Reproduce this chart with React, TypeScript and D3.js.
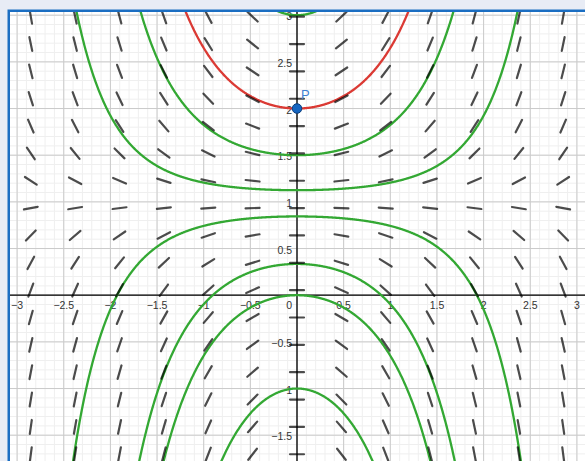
import React from 'react';
import * as d3 from 'd3';

const W = 585;
const H = 461;

// axis tick labels
const xTickLabels = [-3, -2.5, -2, -1.5, -1, -0.5, 0, 0.5, 1, 1.5, 2, 2.5, 3];
const yTickLabels = [-1.5, -1, -0.5, 0.5, 1, 1.5, 2, 2.5, 3];

// slope-field sample grid (data units)
const slopeCols = [-2.853, -2.378, -1.902, -1.427, -0.951, -0.476, 0, 0.476, 0.951, 1.427, 1.902, 2.378, 2.853];
const slopeRows = [2.984, 2.691, 2.398, 2.105, 1.812, 1.519, 1.226, 0.933, 0.64, 0.347, 0.054, -0.239, -0.532, -0.825, -1.118, -1.411, -1.704];

// solution curves y = 1 + C·exp(x²/2), one constant per curve
const greenConstants = [2, 0.5, 0.125, -0.156, -0.665, -1, -2];
const redConstants = [1];

// the labelled point
const pointP = { x: 0, y: 2, label: 'P' };

// ODE: dy/dx = x (y - 1)
const slope = (x: number, y: number) => x * (y - 1);
const solution = (c: number) => (x: number) => 1 + c * Math.exp((x * x) / 2);

const fmt = (v: number) => (v < 0 ? '\u2212' + String(Math.abs(v)) : String(v));

export default function App() {
  const x = d3.scaleLinear().domain([-3, 3]).range([17.1, 576.9]);
  const y = d3.scaleLinear().domain([-1.5, 3]).range([435.2, 15.2]);

  const plot = { left: 10, top: 12, right: W, bottom: H };
  const [xd0, xd1] = [x.invert(plot.left), x.invert(plot.right)];
  const [yd0, yd1] = [y.invert(plot.bottom), y.invert(plot.top)];

  const minorX = d3.range(Math.ceil(xd0 * 10), Math.floor(xd1 * 10) + 1).map((k) => k / 10);
  const minorY = d3.range(Math.ceil(yd0 * 10), Math.floor(yd1 * 10) + 1).map((k) => k / 10);
  const majorX = d3.range(Math.ceil(xd0 * 2), Math.floor(xd1 * 2) + 1).map((k) => k / 2);
  const majorY = d3.range(Math.ceil(yd0 * 2), Math.floor(yd1 * 2) + 1).map((k) => k / 2);

  const xs = d3.range(-3.4, 3.4001, 0.005);
  const line = d3
    .line<[number, number]>()
    .x((d) => x(d[0]))
    .y((d) => y(Math.max(-20, Math.min(20, d[1]))));
  const curvePath = (c: number) => line(xs.map((v) => [v, solution(c)(v)] as [number, number])) || '';

  const half = 7;
  const segs: { x1: number; y1: number; x2: number; y2: number; k: string }[] = [];
  slopeCols.forEach((cx) => {
    slopeRows.forEach((cy) => {
      const m = slope(cx, cy);
      const n = Math.sqrt(1 + m * m);
      const dx = half / n;
      const dy = (half * m) / n;
      const px = x(cx);
      const py = y(cy);
      segs.push({ x1: px - dx, y1: py + dy, x2: px + dx, y2: py - dy, k: cx + '_' + cy });
    });
  });

  const x0 = x(0);
  const y0 = y(0);
  const font = '"Liberation Sans", Arial, sans-serif';

  return (
    <svg width={W} height={H} style={{ position: 'absolute', left: 0, top: 0 }}>
      <defs>
        <clipPath id="plotclip">
          <rect x={plot.left} y={plot.top} width={plot.right - plot.left} height={plot.bottom - plot.top} />
        </clipPath>
      </defs>
      <rect x={0} y={0} width={W} height={H} fill="#e8ecf5" />
      <rect x={7.5} y={9.5} width={W} height={H} fill="#1b6ec2" />
      <rect x={plot.left} y={plot.top} width={plot.right - plot.left} height={plot.bottom - plot.top} fill="#ffffff" />
      <g clipPath="url(#plotclip)">
        {minorX.map((v) => (
          <line key={'mx' + v} x1={x(v)} x2={x(v)} y1={plot.top} y2={plot.bottom} stroke="#efefef" strokeWidth={1} />
        ))}
        {minorY.map((v) => (
          <line key={'my' + v} y1={y(v)} y2={y(v)} x1={plot.left} x2={plot.right} stroke="#efefef" strokeWidth={1} />
        ))}
        {majorX.map((v) => (
          <line key={'Mx' + v} x1={x(v)} x2={x(v)} y1={plot.top} y2={plot.bottom} stroke="#cacaca" strokeWidth={1} />
        ))}
        {majorY.map((v) => (
          <line key={'My' + v} y1={y(v)} y2={y(v)} x1={plot.left} x2={plot.right} stroke="#cacaca" strokeWidth={1} />
        ))}
        <line x1={plot.left} x2={plot.right} y1={y0} y2={y0} stroke="#000" strokeWidth={1.3} />
        <line x1={x0} x2={x0} y1={plot.top} y2={plot.bottom} stroke="#000" strokeWidth={1.3} />

        {xTickLabels.map((v) => (
          <text
            key={'xl' + v}
            x={v === 0 ? x0 - 5 : x(v)}
            y={y0 + 14}
            textAnchor={v === 0 ? 'end' : 'middle'}
            fontFamily={font}
            fontSize={10.5}
            fill="#333"
          >
            {fmt(v)}
          </text>
        ))}
        {yTickLabels.map((v) => (
          <text key={'yl' + v} x={x0 - 5} y={y(v) + 5} textAnchor="end" fontFamily={font} fontSize={10.5} fill="#333">
            {fmt(v)}
          </text>
        ))}

        {greenConstants.map((c) => (
          <path key={'g' + c} d={curvePath(c)} fill="none" stroke="#33a833" strokeWidth={2.3} />
        ))}
        {redConstants.map((c) => (
          <path key={'r' + c} d={curvePath(c)} fill="none" stroke="#db3a34" strokeWidth={2.3} />
        ))}

        {segs.map((s) => (
          <line
            key={s.k}
            x1={s.x1}
            y1={s.y1}
            x2={s.x2}
            y2={s.y2}
            stroke="#000"
            strokeOpacity={0.7}
            strokeWidth={2.2}
            strokeLinecap="round"
          />
        ))}

        <circle cx={x(pointP.x)} cy={y(pointP.y)} r={4.8} fill="#1565c0" stroke="#0b3d7a" strokeWidth={1} />
        <text x={x(pointP.x) + 4} y={y(pointP.y) - 10} fontFamily={font} fontSize={13} fill="#3f7fd0">
          {pointP.label}
        </text>
      </g>
    </svg>
  );
}
